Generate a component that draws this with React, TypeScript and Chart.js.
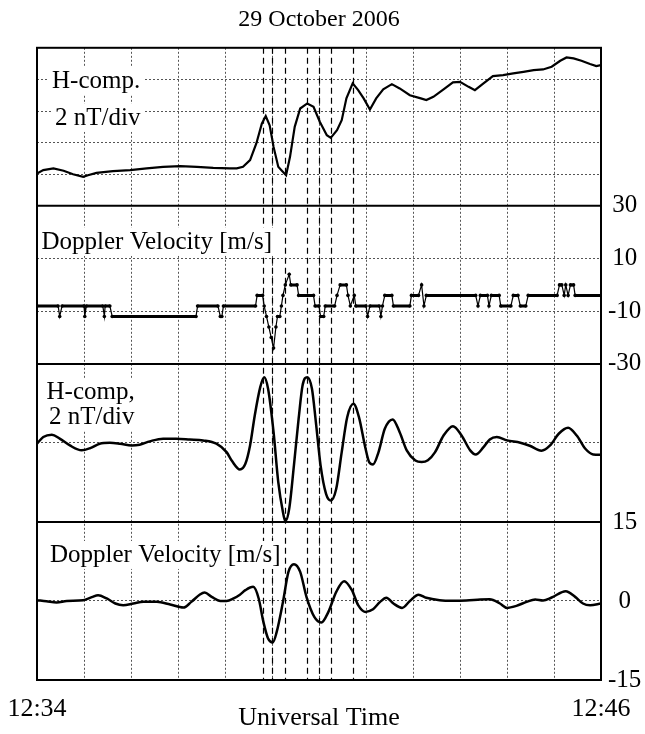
import React, { useEffect, useRef } from 'react';
import { Chart, registerables } from 'chart.js';

Chart.register(...registerables);

const FONT = '"Liberation Serif", "Times New Roman", serif';

// ---- text ----
const chartTitle = '29 October 2006';
const xAxisTitle = 'Universal Time';
const xTickTimes = [0, 720];
const xTickLabels = ['12:34', '12:46'];
const panel1Labels = ['H-comp.', '2 nT/div'];
const panel2Labels = ['Doppler Velocity [m/s]'];
const panel3Labels = ['H-comp,', '2 nT/div'];
const panel4Labels = ['Doppler Velocity [m/s]'];

// right-hand tick labels
const p2TickValues = [30, 10, -10, -30];
const p2TickLabels = ['30', '10', '-10', '-30'];
const p4TickValues = [15, 0, -15];
const p4TickLabels = ['15', '0', '-15'];
const p3GridValues = [0];

// event times (seconds after 12:34:00) marked by dashed lines
const eventTimes = [289, 300, 317, 345, 360, 375, 404];

// ---- panel 1: raw H component (nT, 2 nT/div) ----
const hRawTimes = [0, 8, 21, 34, 46, 59, 65, 76, 97, 119, 140, 161, 183, 204, 225, 246, 255, 263, 272, 280, 287, 292, 297, 302, 308, 312, 318, 323, 329, 336, 345, 353, 361, 370, 375, 383, 389, 395, 403, 410, 417, 425, 433, 442, 453, 463, 476, 490, 497, 506, 519, 531, 540, 551, 559, 570, 582, 595, 608, 621, 634, 646, 657, 668, 676, 685, 695, 706, 714, 720];
const hRawValues = [2.05, 2.26, 2.37, 2.22, 2.0, 1.84, 1.94, 2.09, 2.2, 2.26, 2.37, 2.47, 2.51, 2.47, 2.4, 2.37, 2.37, 2.47, 2.9, 3.95, 5.2, 5.68, 5.1, 3.73, 2.47, 2.26, 1.94, 3.1, 5.0, 6.16, 6.48, 6.27, 5.32, 4.47, 4.3, 4.79, 5.42, 6.8, 7.75, 7.32, 6.8, 6.1, 6.8, 7.37, 7.7, 7.43, 7.0, 6.8, 6.69, 6.9, 7.37, 7.81, 7.85, 7.53, 7.32, 7.75, 8.21, 8.27, 8.38, 8.48, 8.59, 8.63, 8.8, 9.18, 9.39, 9.33, 9.18, 8.97, 8.84, 8.9];

// ---- panel 2: raw Doppler velocity (m/s) ----
const dRawTimes = [0, 27, 29, 32, 60, 61, 63, 84, 86, 87, 93, 96, 203, 205, 231, 234, 236, 238, 279, 281, 288, 290, 293, 296, 299, 302, 305, 307, 310, 312, 314, 317, 322, 324, 332, 334, 353, 355, 360, 362, 366, 368, 380, 383, 387, 395, 397, 400, 405, 407, 420, 422, 425, 437, 439, 441, 444, 453, 455, 476, 478, 487, 491, 494, 497, 560, 563, 566, 575, 577, 580, 590, 592, 605, 608, 614, 617, 624, 627, 664, 667, 670, 673, 675, 678, 681, 685, 687, 720];
const dRawValues = [-8, -8, -12, -8, -8, -12, -8, -8, -12, -8, -8, -12, -12, -8, -8, -12, -12, -8, -8, -4, -4, -8, -12, -16, -20, -24, -16, -12, -12, -8, -4, 0, 4, 0, 0, -4, -4, -8, -8, -12, -12, -8, -8, -4, 0, 0, -4, -8, -4, -8, -8, -12, -8, -8, -12, -8, -4, -4, -8, -8, -4, -4, 0, -8, -4, -4, -8, -4, -4, -8, -4, -4, -8, -8, -4, -4, -8, -8, -4, -4, 0, 0, -4, 0, -4, 0, 0, -4, -4];

// ---- panel 3: filtered H component (nT) ----
const hFiltTimes = [0, 8, 19, 29, 42, 57, 68, 80, 93, 106, 121, 131, 144, 161, 178, 195, 212, 229, 242, 249, 259, 266, 272, 278, 285, 290, 295, 302, 308, 314, 317, 322, 328, 334, 339, 345, 351, 356, 362, 369, 375, 382, 389, 396, 404, 411, 419, 424, 429, 436, 444, 454, 463, 472, 483, 491, 499, 508, 519, 531, 542, 553, 560, 570, 578, 587, 600, 617, 629, 644, 655, 666, 678, 689, 700, 710, 720];
const hFiltValues = [-0.05, 0.37, 0.52, 0.27, -0.16, -0.47, -0.33, -0.05, 0.01, -0.05, -0.16, -0.11, 0.1, 0.27, 0.27, 0.22, 0.16, -0.05, -0.58, -1.15, -1.68, -1.32, -0.16, 1.74, 3.53, 4.16, 3.43, 0.68, -2.48, -4.38, -4.95, -4.16, -1.42, 1.53, 3.64, 4.16, 3.43, 1.32, -1.42, -3.22, -3.64, -2.9, -0.58, 1.63, 2.48, 1.63, -0.27, -1.21, -1.36, -0.58, 0.9, 1.49, 0.68, -0.47, -1.11, -1.21, -1.1, -0.6, 0.47, 1.06, 0.47, -0.47, -0.73, -0.27, 0.22, 0.37, 0.16, 0.01, -0.18, -0.49, -0.16, 0.58, 0.96, 0.47, -0.37, -0.73, -0.75];

// ---- panel 4: filtered Doppler velocity (m/s) ----
const dFiltTimes = [0, 12, 25, 38, 59, 70, 78, 89, 100, 110, 123, 136, 153, 170, 187, 197, 208, 214, 223, 234, 242, 251, 259, 266, 276, 283, 289, 295, 301, 306, 314, 321, 328, 336, 344, 354, 363, 372, 382, 392, 402, 410, 419, 429, 438, 446, 455, 466, 476, 487, 497, 514, 531, 548, 566, 578, 591, 600, 612, 625, 636, 646, 657, 675, 687, 697, 706, 720];
const dFiltValues = [0.15, -0.04, -0.29, 0, 0.15, 0.72, 1.1, 0.47, -0.48, -0.8, -0.48, -0.17, -0.17, -0.67, -1.24, -0.17, 1.23, 1.61, 0.78, 0, 0, 0.5, 1.2, 2.05, 2.68, 0.47, -3.97, -7.12, -7.88, -5.87, -0.17, 5.53, 6.99, 5.53, 0.78, -3.02, -4.08, -2.07, 1.73, 3.76, 2.05, -0.8, -2.07, -1.56, -0.17, 0.6, -0.48, -1.31, 0, 1.2, 0.6, 0.15, 0.05, 0.1, 0.28, 0.34, -0.48, -1.31, -0.93, -0.17, 0.28, 0.09, 0.66, 1.86, 0.78, -0.48, -0.8, -0.48];

const toPoints = (ts: number[], vs: number[]) => ts.map((t, i) => ({ x: t, y: vs[i] }));

const gridOpts = { color: '#555', lineWidth: 1, drawTicks: false };
const xGridOpts = { color: '#555', lineWidth: 1, drawTicks: true, tickLength: 8, tickColor: 'rgba(0,0,0,0)' };
const borderOpts = { display: false, dash: [2, 2] };
const tickFont = { family: FONT, size: 25 };

const decorPlugin = {
  id: 'panelDecor',
  beforeDatasetsDraw(chart: any) {
    const { ctx, chartArea, scales } = chart;
    ctx.save();
    // event dashed lines
    ctx.strokeStyle = '#000';
    ctx.lineWidth = 1.2;
    ctx.setLineDash([6, 4]);
    for (const t of eventTimes) {
      const px = Math.round(scales.x.getPixelForValue(t)) + 0.5;
      ctx.beginPath();
      ctx.moveTo(px, chartArea.top);
      ctx.lineTo(px, chartArea.bottom);
      ctx.stroke();
    }
    ctx.setLineDash([]);
    // panel labels with white backing
    ctx.font = '25px ' + FONT;
    ctx.textBaseline = 'alphabetic';
    ctx.textAlign = 'left';
    const L = chartArea.left;
    const items: [string, number, number][] = [
      [panel1Labels[0], L + 15, scales.p1.top + 40],
      [panel1Labels[1], L + 18, scales.p1.top + 77],
      [panel2Labels[0], L + 4.5, scales.p2.top + 43],
      [panel3Labels[0], L + 9.5, scales.p3.top + 35.5],
      [panel3Labels[1], L + 12, scales.p3.top + 60],
      [panel4Labels[0], L + 13, scales.p4.top + 40],
    ];
    for (const [text, x, y] of items) {
      const w = ctx.measureText(text).width;
      ctx.fillStyle = '#fff';
      ctx.fillRect(x - 3, y - 21, w + 6, 28);
    }
    ctx.fillStyle = '#000';
    for (const [text, x, y] of items) {
      ctx.fillText(text, x, y);
    }
    ctx.restore();
  },
  afterDraw(chart: any) {
    const { ctx, chartArea, scales } = chart;
    ctx.save();
    ctx.strokeStyle = '#000';
    ctx.lineWidth = 2;
    ctx.setLineDash([]);
    ctx.strokeRect(chartArea.left, chartArea.top, chartArea.right - chartArea.left, chartArea.bottom - chartArea.top);
    for (const id of ['p1', 'p2', 'p3']) {
      const y = scales[id].bottom;
      ctx.beginPath();
      ctx.moveTo(chartArea.left, y);
      ctx.lineTo(chartArea.right, y);
      ctx.stroke();
    }
    ctx.restore();
  },
};

function yAxis(extra: any) {
  return {
    type: 'linear',
    position: 'right',
    stack: 'panels',
    stackWeight: 1,
    offset: false,
    grid: gridOpts,
    border: borderOpts,
    afterFit: (s: any) => {
      s.width = 44;
    },
    ...extra,
  };
}

export default function App() {
  const ref = useRef<HTMLCanvasElement>(null);

  useEffect(() => {
    const canvas = ref.current;
    if (!canvas) return;
    const chart = new Chart(canvas, {
      type: 'line',
      data: {
        datasets: [
          {
            data: toPoints(hRawTimes, hRawValues),
            yAxisID: 'p1',
            borderColor: '#000',
            borderWidth: 2.2,
            pointRadius: 0,
            tension: 0,
          },
          {
            data: toPoints(dRawTimes, dRawValues),
            yAxisID: 'p2',
            borderColor: '#000',
            borderWidth: 1.2,
            pointRadius: 1.8,
            pointBackgroundColor: '#000',
            pointBorderWidth: 0,
            tension: 0,
            segment: {
              borderWidth: (c: any) => (c.p0.parsed.y === c.p1.parsed.y ? 3 : 1.2),
            },
          },
          {
            data: toPoints(hFiltTimes, hFiltValues),
            yAxisID: 'p3',
            borderColor: '#000',
            borderWidth: 2.5,
            pointRadius: 0,
            cubicInterpolationMode: 'monotone',
          },
          {
            data: toPoints(dFiltTimes, dFiltValues),
            yAxisID: 'p4',
            borderColor: '#000',
            borderWidth: 2.5,
            pointRadius: 0,
            cubicInterpolationMode: 'monotone',
          },
        ],
      } as any,
      options: {
        animation: false,
        responsive: false,
        events: [],
        layout: { padding: { left: 37, right: 0, top: 0, bottom: 0 } },
        plugins: {
          legend: { display: false },
          tooltip: { enabled: false },
          title: {
            display: true,
            text: chartTitle,
            fullSize: false,
            color: '#000',
            font: { family: FONT, size: 24, weight: 'normal' },
            padding: { top: 5, bottom: 14 },
          },
        },
        scales: {
          x: {
            type: 'linear',
            position: 'bottom',
            min: 0,
            max: 720,
            grid: xGridOpts,
            border: borderOpts,
            ticks: {
              stepSize: 60,
              autoSkip: false,
              maxRotation: 0,
              padding: 6,
              color: '#000',
              font: { family: FONT, size: 26 },
              callback: (v: any) => {
                const i = xTickTimes.indexOf(Number(v));
                return i >= 0 ? xTickLabels[i] : '';
              },
            },
            title: {
              display: true,
              text: xAxisTitle,
              color: '#000',
              font: { family: FONT, size: 26 },
              padding: { top: 0, bottom: 0 },
            },
            afterFit: (s: any) => {
              s.height = 54;
            },
          },
          p1: yAxis({
            min: 0,
            max: 10,
            ticks: { display: false, stepSize: 2 },
          }),
          p2: yAxis({
            min: -30,
            max: 30,
            afterBuildTicks: (s: any) => {
              s.ticks = p2TickValues.map((value) => ({ value }));
            },
            ticks: {
              autoSkip: false,
              padding: 7,
              crossAlign: 'center',
              color: '#000',
              font: tickFont,
              callback: (v: any) => {
                const i = p2TickValues.indexOf(Number(v));
                return i >= 0 ? p2TickLabels[i] : '';
              },
            },
          }),
          p3: yAxis({
            min: -5,
            max: 5,
            afterBuildTicks: (s: any) => {
              s.ticks = p3GridValues.map((value) => ({ value }));
            },
            ticks: { display: false },
          }),
          p4: yAxis({
            min: -15,
            max: 15,
            afterBuildTicks: (s: any) => {
              s.ticks = p4TickValues.map((value) => ({ value }));
            },
            ticks: {
              autoSkip: false,
              padding: 7,
              crossAlign: 'center',
              color: '#000',
              font: tickFont,
              callback: (v: any) => {
                const i = p4TickValues.indexOf(Number(v));
                return i >= 0 ? p4TickLabels[i] : '';
              },
            },
          }),
        },
      } as any,
      plugins: [decorPlugin],
    });
    return () => chart.destroy();
  }, []);

  return (
    <canvas
      ref={ref}
      width={645}
      height={734}
      style={{ position: 'absolute', left: 0, top: 0, width: 645, height: 734, background: '#fff' }}
    />
  );
}
